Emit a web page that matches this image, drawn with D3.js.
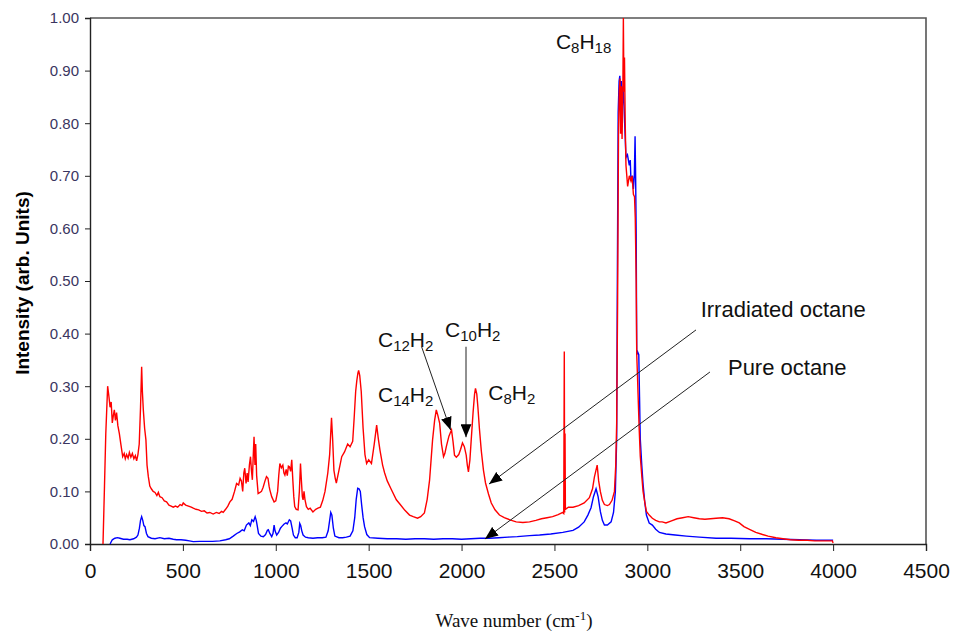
<!DOCTYPE html>
<html>
<head>
<meta charset="utf-8">
<script src="https://cdn.jsdelivr.net/npm/d3@7/dist/d3.min.js"></script>
<style>
  body { margin: 0; padding: 0; background: #fff; }
  svg { display: block; }
</style>
</head>
<body>
<svg id="chart" width="953" height="633"></svg>
<script>
// x: wave number (cm-1), y: intensity (arb. units)
var irradiated = [[70,0],[78,0.11],[85,0.21],[95,0.30],[102,0.28],[108,0.26],[114,0.27],[120,0.23],[126,0.245],[131,0.255],[137,0.235],[143,0.25],[150,0.225],[158,0.21],[166,0.19],[176,0.166],[184,0.172],[190,0.162],[197,0.17],[205,0.163],[212,0.174],[220,0.165],[228,0.172],[236,0.162],[244,0.168],[251,0.158],[258,0.17],[265,0.19],[272,0.26],[278,0.337],[282,0.29],[287,0.255],[294,0.22],[301,0.198],[307,0.15],[314,0.128],[322,0.11],[330,0.105],[340,0.1],[350,0.098],[360,0.092],[368,0.098],[376,0.09],[388,0.088],[400,0.082],[412,0.08],[425,0.074],[437,0.072],[448,0.07],[460,0.072],[472,0.07],[485,0.075],[495,0.073],[502,0.078],[515,0.074],[530,0.072],[545,0.07],[556,0.068],[570,0.066],[585,0.065],[600,0.062],[615,0.063],[630,0.059],[645,0.06],[663,0.057],[680,0.06],[695,0.058],[708,0.062],[717,0.06],[730,0.066],[742,0.072],[753,0.08],[765,0.085],[778,0.1],[789,0.115],[800,0.112],[808,0.125],[815,0.12],[822,0.1],[828,0.135],[833,0.144],[840,0.115],[846,0.135],[851,0.118],[858,0.15],[864,0.166],[869,0.14],[874,0.122],[879,0.17],[883,0.204],[888,0.15],[892,0.19],[897,0.13],[905,0.096],[915,0.098],[923,0.1],[932,0.108],[942,0.12],[950,0.128],[958,0.125],[964,0.11],[968,0.103],[978,0.09],[991,0.08],[1000,0.082],[1010,0.1],[1016,0.13],[1022,0.153],[1030,0.145],[1038,0.15],[1044,0.135],[1049,0.131],[1056,0.142],[1062,0.13],[1068,0.148],[1073,0.147],[1080,0.138],[1086,0.16],[1092,0.12],[1097,0.09],[1102,0.071],[1110,0.066],[1120,0.065],[1127,0.1],[1133,0.153],[1138,0.12],[1143,0.09],[1147,0.084],[1152,0.1],[1157,0.085],[1165,0.071],[1175,0.066],[1185,0.068],[1200,0.061],[1215,0.066],[1227,0.068],[1240,0.07],[1253,0.083],[1265,0.1],[1280,0.135],[1290,0.17],[1300,0.24],[1306,0.2],[1313,0.14],[1320,0.125],[1326,0.116],[1340,0.14],[1355,0.166],[1370,0.175],[1387,0.19],[1400,0.185],[1414,0.195],[1422,0.24],[1430,0.29],[1436,0.31],[1442,0.325],[1446,0.33],[1452,0.32],[1460,0.29],[1470,0.22],[1480,0.17],[1489,0.153],[1500,0.16],[1515,0.153],[1530,0.19],[1543,0.226],[1552,0.2],[1561,0.178],[1575,0.15],[1586,0.135],[1600,0.12],[1620,0.105],[1649,0.084],[1670,0.075],[1695,0.064],[1720,0.055],[1740,0.052],[1763,0.049],[1780,0.052],[1800,0.059],[1815,0.085],[1828,0.122],[1836,0.16],[1844,0.198],[1855,0.235],[1864,0.255],[1872,0.245],[1882,0.23],[1892,0.19],[1903,0.166],[1910,0.172],[1918,0.185],[1932,0.205],[1946,0.217],[1954,0.195],[1962,0.169],[1972,0.165],[1985,0.17],[1995,0.18],[2005,0.192],[2015,0.185],[2025,0.169],[2031,0.15],[2037,0.137],[2045,0.16],[2052,0.198],[2062,0.25],[2070,0.285],[2075,0.296],[2082,0.285],[2088,0.26],[2096,0.22],[2106,0.178],[2118,0.14],[2129,0.116],[2145,0.095],[2160,0.078],[2180,0.065],[2204,0.055],[2230,0.05],[2260,0.046],[2294,0.042],[2330,0.041],[2366,0.042],[2400,0.045],[2430,0.048],[2460,0.05],[2490,0.052],[2520,0.056],[2545,0.06],[2550,0.058],[2553,0.366],[2555,0.06],[2557,0.21],[2559,0.066],[2575,0.07],[2600,0.07],[2630,0.073],[2660,0.078],[2688,0.088],[2705,0.105],[2715,0.127],[2730,0.15],[2738,0.12],[2747,0.1],[2758,0.083],[2769,0.075],[2785,0.073],[2796,0.075],[2810,0.083],[2823,0.1],[2830,0.15],[2835,0.23],[2840,0.46],[2845,0.79],[2849,0.86],[2853,0.885],[2856,0.78],[2860,0.87],[2864,0.77],[2868,0.85],[2871,1.0],[2874,0.86],[2877,0.925],[2881,0.8],[2885,0.72],[2894,0.68],[2903,0.7],[2912,0.69],[2918,0.7],[2925,0.665],[2931,0.66],[2935,0.62],[2940,0.5],[2943,0.36],[2947,0.32],[2950,0.285],[2956,0.22],[2962,0.167],[2970,0.13],[2977,0.1],[2986,0.08],[2995,0.062],[3010,0.055],[3027,0.049],[3045,0.045],[3065,0.042],[3080,0.042],[3100,0.04],[3130,0.044],[3160,0.048],[3190,0.05],[3220,0.052],[3250,0.05],[3280,0.048],[3310,0.047],[3340,0.048],[3370,0.049],[3405,0.05],[3440,0.048],[3470,0.044],[3495,0.04],[3520,0.033],[3550,0.028],[3584,0.022],[3620,0.018],[3650,0.015],[3692,0.012],[3730,0.01],[3770,0.008],[3817,0.007],[3860,0.007],[3900,0.006],[3950,0.006],[3996,0.006],[4000,0.002]];

var pure = [[108,0],[120,0.008],[134,0.011],[148,0.012],[161,0.011],[180,0.009],[200,0.009],[215,0.008],[235,0.01],[250,0.013],[258,0.017],[266,0.03],[272,0.045],[278,0.052],[284,0.045],[290,0.035],[296,0.033],[304,0.02],[312,0.014],[330,0.011],[350,0.01],[376,0.012],[400,0.01],[425,0.011],[448,0.009],[466,0.008],[490,0.008],[515,0.007],[535,0.006],[556,0.0045],[590,0.005],[620,0.005],[660,0.005],[699,0.006],[730,0.008],[750,0.01],[771,0.015],[790,0.02],[806,0.023],[820,0.027],[830,0.025],[842,0.036],[855,0.04],[863,0.035],[871,0.046],[880,0.043],[889,0.052],[895,0.045],[900,0.035],[907,0.02],[920,0.015],[933,0.014],[945,0.018],[955,0.026],[960,0.027],[968,0.02],[978,0.014],[985,0.02],[991,0.036],[996,0.025],[1005,0.017],[1015,0.022],[1025,0.03],[1032,0.033],[1045,0.038],[1055,0.04],[1062,0.038],[1073,0.046],[1080,0.044],[1088,0.03],[1095,0.017],[1105,0.012],[1115,0.012],[1124,0.022],[1129,0.039],[1134,0.035],[1140,0.025],[1147,0.017],[1160,0.013],[1175,0.012],[1200,0.011],[1225,0.012],[1250,0.012],[1270,0.013],[1282,0.025],[1290,0.045],[1296,0.06],[1302,0.055],[1310,0.03],[1318,0.015],[1340,0.012],[1360,0.012],[1380,0.013],[1400,0.015],[1415,0.025],[1425,0.05],[1433,0.085],[1441,0.106],[1448,0.105],[1455,0.1],[1462,0.075],[1470,0.05],[1478,0.033],[1490,0.018],[1505,0.012],[1550,0.011],[1600,0.01],[1650,0.01],[1700,0.009],[1750,0.01],[1800,0.01],[1850,0.009],[1900,0.01],[1950,0.01],[2000,0.009],[2050,0.01],[2100,0.011],[2150,0.011],[2200,0.012],[2250,0.013],[2300,0.014],[2366,0.016],[2420,0.017],[2480,0.019],[2545,0.022],[2600,0.026],[2630,0.032],[2660,0.042],[2680,0.055],[2697,0.069],[2710,0.09],[2724,0.105],[2735,0.09],[2747,0.062],[2758,0.045],[2769,0.036],[2785,0.036],[2805,0.042],[2818,0.06],[2828,0.1],[2835,0.2],[2838,0.46],[2843,0.82],[2848,0.88],[2852,0.89],[2856,0.84],[2860,0.88],[2865,0.83],[2870,0.87],[2875,0.83],[2880,0.78],[2885,0.735],[2893,0.74],[2903,0.72],[2908,0.73],[2912,0.69],[2920,0.7],[2925,0.675],[2930,0.7],[2934,0.775],[2937,0.7],[2940,0.59],[2943,0.36],[2948,0.365],[2954,0.36],[2958,0.28],[2962,0.2],[2970,0.15],[2977,0.114],[2986,0.08],[2995,0.055],[3010,0.04],[3027,0.036],[3045,0.028],[3065,0.022],[3100,0.019],[3150,0.017],[3210,0.015],[3280,0.013],[3370,0.011],[3450,0.011],[3550,0.01],[3640,0.01],[3730,0.009],[3820,0.008],[3910,0.007],[4000,0.007]];

var xTicks = [0,500,1000,1500,2000,2500,3000,3500,4000,4500];
var yTicks = [0,0.1,0.2,0.3,0.4,0.5,0.6,0.7,0.8,0.9,1.0];

// labels at [wave number, intensity]; parts with subscripts
var peakLabels = [
  {x: 2508, y: 0.942, parts: [["C",""],["8","sub"],["H",""],["18","sub"]]},
  {x: 1550, y: 0.3745, parts: [["C",""],["12","sub"],["H",""],["2","sub"]]},
  {x: 1911, y: 0.394, parts: [["C",""],["10","sub"],["H",""],["2","sub"]]},
  {x: 1550, y: 0.2705, parts: [["C",""],["14","sub"],["H",""],["2","sub"]]},
  {x: 2144, y: 0.2738, parts: [["C",""],["8","sub"],["H",""],["2","sub"]]}
];
var seriesLabels = [
  {x: 3287, y: 0.432, text: "Irradiated octane"},
  {x: 3434, y: 0.321, text: "Pure octane"}
];
// arrows: from [x,y] to [x,y]
var arrows = [
  [[1785,0.375],[1941,0.2167]],
  [[2024,0.375],[2024,0.203]],
  [[3262,0.407],[2148,0.114]],
  [[3337,0.327],[2126,0.0095]]
];

(function(){
var svg = d3.select("#chart");
var mLeft = 90, mRight = 926, mTop = 18, mBottom = 544;

var x = d3.scaleLinear().domain([0,4500]).range([mLeft,mRight]);
var y = d3.scaleLinear().domain([0,1]).range([mBottom,mTop]);

// frame top + right
svg.append("path")
  .attr("d", "M" + mLeft + "," + mTop + "H" + mRight + "V" + mBottom)
  .attr("fill", "none").attr("stroke", "#555").attr("stroke-width", 1.6);

var yAxis = svg.append("g")
  .attr("transform", "translate(" + mLeft + ",0)")
  .call(d3.axisLeft(y).tickValues(yTicks).tickFormat(d3.format(".2f")).tickSize(5).tickPadding(6));
yAxis.selectAll("text").attr("font-family", "Arial, 'Liberation Sans', sans-serif")
  .attr("font-size", 15).attr("fill", "#3a3560");
yAxis.select(".domain").attr("stroke", "#222").attr("stroke-width", 1.4);
yAxis.selectAll(".tick line").attr("stroke", "#222");

var xAxis = svg.append("g")
  .attr("transform", "translate(0," + mBottom + ")")
  .call(d3.axisBottom(x).tickValues(xTicks).tickFormat(d3.format("d")).tickSize(7).tickPadding(12));
xAxis.selectAll("text").attr("font-family", "Arial, 'Liberation Sans', sans-serif")
  .attr("font-size", 21).attr("fill", "#111");
xAxis.select(".domain").attr("stroke", "#222").attr("stroke-width", 1.4);
xAxis.selectAll(".tick line").attr("stroke", "#222");

var line = d3.line().x(function(d){ return x(d[0]); }).y(function(d){ return y(d[1]); });

svg.append("path").datum(pure).attr("d", line)
  .attr("fill", "none").attr("stroke", "#0000ff").attr("stroke-width", 1.4);
svg.append("path").datum(irradiated).attr("d", line)
  .attr("fill", "none").attr("stroke", "#ff0000").attr("stroke-width", 1.4);

// arrow marker
svg.append("defs").append("marker")
  .attr("id", "head").attr("viewBox", "0 0 12 10")
  .attr("refX", 12).attr("refY", 5)
  .attr("markerWidth", 13).attr("markerHeight", 11)
  .attr("markerUnits", "userSpaceOnUse").attr("orient", "auto")
  .append("path").attr("d", "M0,0L12,5L0,10Z").attr("fill", "#000");

svg.selectAll(".arrow").data(arrows).enter().append("line")
  .attr("class", "arrow")
  .attr("x1", function(d){ return x(d[0][0]); })
  .attr("y1", function(d){ return y(d[0][1]); })
  .attr("x2", function(d){ return x(d[1][0]); })
  .attr("y2", function(d){ return y(d[1][1]); })
  .attr("stroke", "#222").attr("stroke-width", 1)
  .attr("marker-end", "url(#head)");

// formula labels with subscripts
peakLabels.forEach(function(l){
  var t = svg.append("text")
    .attr("x", x(l.x)).attr("y", y(l.y))
    .attr("font-family", "Arial, 'Liberation Sans', sans-serif")
    .attr("font-size", 21).attr("fill", "#111");
  var shifted = false;
  l.parts.forEach(function(p){
    var ts = t.append("tspan").text(p[0]);
    if (p[1] === "sub") {
      ts.attr("font-size", 15).attr("dy", shifted ? 0 : 4);
      shifted = true;
    } else {
      ts.attr("dy", shifted ? -4 : 0);
      shifted = false;
    }
  });
});

svg.selectAll(".slabel").data(seriesLabels).enter().append("text")
  .attr("class", "slabel")
  .attr("x", function(d){ return x(d.x); })
  .attr("y", function(d){ return y(d.y); })
  .attr("font-family", "Arial, 'Liberation Sans', sans-serif")
  .attr("font-size", 22).attr("fill", "#111")
  .text(function(d){ return d.text; });

// axis titles
svg.append("text")
  .attr("transform", "translate(29,283) rotate(-90)")
  .attr("text-anchor", "middle")
  .attr("font-family", "Arial, 'Liberation Sans', sans-serif")
  .attr("font-weight", "bold").attr("font-size", 19).attr("fill", "#000")
  .text("Intensity (arb. Units)");

var xt = svg.append("text")
  .attr("x", 514).attr("y", 627)
  .attr("text-anchor", "middle")
  .attr("font-family", "'Times New Roman', 'Liberation Serif', serif")
  .attr("font-size", 19).attr("fill", "#111");
xt.append("tspan").text("Wave number (cm");
xt.append("tspan").attr("font-size", 13).attr("dy", -7).text("-1");
xt.append("tspan").attr("dy", 7).text(")");
})();
</script>
</body>
</html>
